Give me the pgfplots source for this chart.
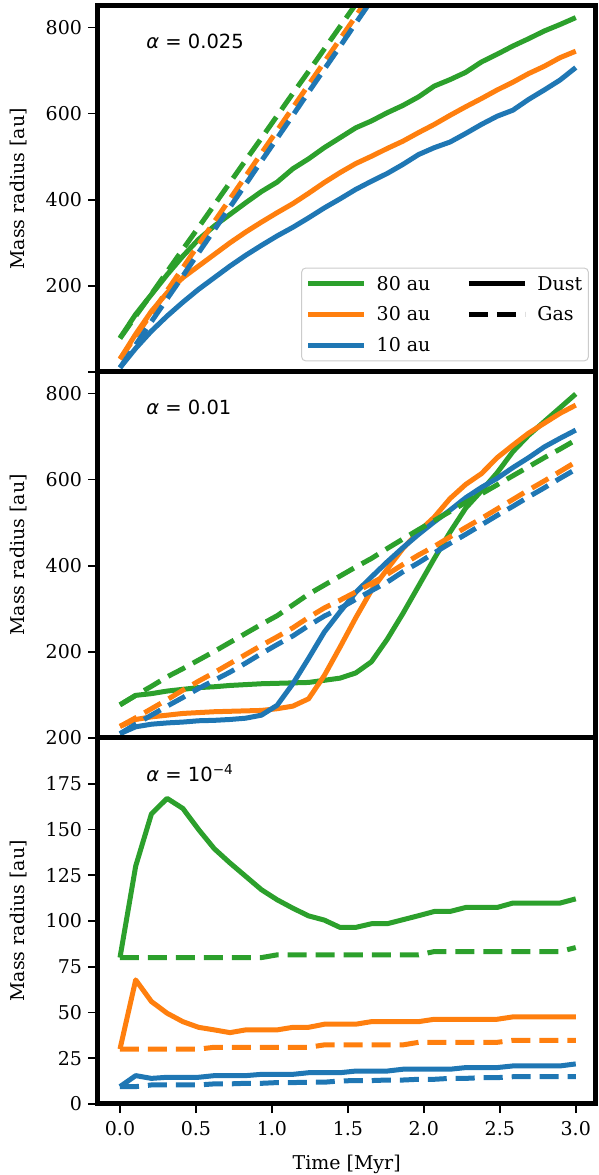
\documentclass[border=0pt]{standalone}
\usepackage{fontspec}
\setmainfont{DejaVu Serif}
\newfontfamily\dvsans{DejaVu Sans}
\usepackage{pgfplots}
\usepackage{pgfplotstable}
\pgfplotsset{compat=1.18}

\definecolor{tabblue}{HTML}{1F77B4}
\definecolor{taborange}{HTML}{FF7F0E}
\definecolor{tabgreen}{HTML}{2CA02C}

\newcommand\fs{\fontsize{19}{22.8}\selectfont}

% mass radius [au]; d = dust, g = gas; 80/30/10 au initial disc size
\pgfplotstableread{
t      d80  d30  d10  g80  g30  g10
0.0000 79   30   10   78   30   10
0.1034 134  88   55   130  83   63
0.2069 180  141  95   181  136  117
0.3103 226  184  130  233  189  170
0.4138 269  219  162  285  242  223
0.5172 308  246  192  336  296  277
0.6207 339  273  219  388  349  330
0.7241 366  300  246  440  402  383
0.8276 393  325  271  492  455  436
0.9310 419  348  294  543  508  490
1.0345 441  370  316  595  561  543
1.1379 472  391  336  647  614  596
1.2414 495  415  358  698  667  650
1.3448 521  440  381  750  720  703
1.4483 544  463  402  802  773  756
1.5517 567  484  424  854  826  810
1.6552 583  501  443  905  880  863
1.7586 602  519  461  nan  nan  nan
1.8621 619  536  482  nan  nan  nan
1.9655 639  556  505  nan  nan  nan
2.0690 664  575  521  nan  nan  nan
2.1724 679  596  534  nan  nan  nan
2.2759 696  616  554  nan  nan  nan
2.3793 720  635  575  nan  nan  nan
2.4828 738  655  594  nan  nan  nan
2.5862 757  673  608  nan  nan  nan
2.6897 774  693  633  nan  nan  nan
2.7931 792  710  655  nan  nan  nan
2.8966 807  730  678  nan  nan  nan
3.0000 823  745  707  nan  nan  nan
}\tabhigh

\pgfplotstableread{
t      d80  d30  d10  g80  g30  g10
0.0000 77   27   10   77   27   10
0.1034 99   43   26   99   47   32
0.2069 103  49   32   120  68   53
0.3103 109  53   35   142  89   74
0.4138 113  57   37   161  111  94
0.5172 117  59   40   181  132  115
0.6207 119  61   41   201  152  134
0.7241 122  62   43   222  173  153
0.8276 124  63   46   243  194  174
0.9310 126  64   53   264  215  196
1.0345 127  68   76   284  235  217
1.1379 128  74   126  309  256  237
1.2414 129  91   185  334  280  261
1.3448 134  145  246  355  302  283
1.4483 139  211  293  376  320  301
1.5517 151  279  338  397  339  322
1.6552 177  343  374  417  359  342
1.7586 229  392  409  440  380  362
1.8621 289  440  442  462  403  386
1.9655 353  479  473  484  425  407
2.0690 417  513  502  505  445  430
2.1724 478  556  529  526  467  452
2.2759 534  589  558  547  489  473
2.3793 574  614  582  567  510  495
2.4828 616  651  603  588  532  517
2.5862 665  680  628  609  554  538
2.6897 703  708  651  630  576  560
2.7931 735  731  676  651  597  581
2.8966 767  754  696  671  619  603
3.0000 799  773  715  692  641  624
}\tabmid

\pgfplotstableread{
t      d80    d30   d10   g80   g30   g10
0.0000 80     30    9.5   80    30    9.5
0.1034 130    67.8  15.5  80    30    9.5
0.2069 158.5  56    14.0  80    30    10.4
0.3103 167    49.6  14.6  80    30    10.4
0.4138 161.5  45    14.6  80    30    10.4
0.5172 150    41.9  14.6  80    30    10.4
0.6207 139.5  40.5  15.5  80    31    11.0
0.7241 131.7  39    15.5  80    31    11.0
0.8276 124.4  40.5  15.5  80    31    11.3
0.9310 117.1  40.5  16.2  80    31    11.3
1.0345 111.6  40.5  16.2  81.5  31    11.7
1.1379 107    41.9  16.2  81.5  31    11.7
1.2414 102.8  41.9  17.1  81.5  31    11.9
1.3448 100.5  43.6  17.1  81.5  32.3  11.9
1.4483 96.5   43.6  17.1  81.5  32.3  12.6
1.5517 96.5   43.6  18.0  81.5  32.3  12.8
1.6552 98.5   45    18.0  81.5  32.3  12.8
1.7586 98.5   45    18.0  81.5  32.3  13.1
1.8621 100.7  45    19.0  81.5  32.3  13.1
1.9655 102.9  45    19.0  81.5  33.7  13.5
2.0690 105.2  46.3  19.0  83.3  33.7  13.5
2.1724 105.2  46.3  19.0  83.3  33.7  14.0
2.2759 107.4  46.3  19.9  83.3  33.7  14.0
2.3793 107.4  46.3  19.9  83.3  33.7  14.4
2.4828 107.4  46.3  19.9  83.3  33.7  14.4
2.5862 109.8  47.6  20.8  83.3  34.8  14.9
2.6897 109.8  47.6  20.8  83.3  34.8  14.9
2.7931 109.8  47.6  20.8  83.3  34.8  14.9
2.8966 109.8  47.6  20.8  83.3  34.8  14.9
3.0000 112.1  47.6  21.9  85.5  34.8  14.9
}\tablow

\tikzset{
  dust/.style={line width=5pt, line join=round},
  gas/.style={line width=5pt, line join=round, dash pattern=on 19pt off 9pt},
  alphalabel/.style={anchor=base west, font=\dvsans\fontsize{19.5}{23}\selectfont},
}

\pgfplotsset{
  panel/.style={
    scale only axis, width=498.3pt, height=366pt,
    anchor=south west,
    xmin=-0.148, xmax=3.132,
    axis on top,
    axis line style={line width=5pt},
    tick style={line width=1.6pt, black},
    major tick length=9pt,
    tick align=outside,
    tick pos=left,
    ticklabel style={font=\fs},
    /pgf/number format/assume math mode=true,
    ylabel={Mass radius [au]},
    ylabel style={at={(axis description cs:-0.1575,0.5)}, anchor=center, font=\fs},
    yticklabel style={xshift=-3pt},
  },
}

\newcommand\plotsix[1]{%
  \addplot[tabgreen, dust, forget plot] table[x=t, y=d80] {#1};
  \addplot[taborange, dust, forget plot] table[x=t, y=d30] {#1};
  \addplot[tabblue, dust, forget plot] table[x=t, y=d10] {#1};
  \addplot[tabgreen, gas, forget plot] table[x=t, y=g80] {#1};
  \addplot[taborange, gas, forget plot] table[x=t, y=g30] {#1};
  \addplot[tabblue, gas, forget plot] table[x=t, y=g10] {#1};
}

\begin{document}
\begin{tikzpicture}
% top: alpha = 0.025
\begin{axis}[panel, at={(97.5pt,803pt)},
  ymin=0, ymax=850, ytick={0,200,400,600,800}, yticklabels={,200,400,600,800},
  xtick=\empty,
  legend columns=2,
  legend cell align=left,
  legend image code/.code={\draw[#1] (0pt,0pt) -- (56pt,0pt);},
  legend style={at={(0.986,0.029)}, anchor=south east, font=\fs,
    draw=black!20, line width=1pt, rounded corners=4pt, fill=white,
    inner xsep=4pt, inner ysep=6pt, row sep=11pt,
    nodes={inner sep=2pt},
    /tikz/column 1/.style={column sep=8pt},
    /tikz/column 2/.style={column sep=34pt},
    /tikz/column 3/.style={column sep=8pt}},
]
\addlegendimage{tabgreen, dust}
\addlegendentry{80 au}
\addlegendimage{black, dust}
\addlegendentry{Dust}
\addlegendimage{taborange, dust}
\addlegendentry{30 au}
\addlegendimage{black, gas}
\addlegendentry{Gas}
\addlegendimage{tabblue, dust}
\addlegendentry{10 au}
\plotsix{\tabhigh}
\node[alphalabel] at (axis description cs:0.091,0.885) {{\itshape α} = 0.025};
\end{axis}

% middle: alpha = 0.01
\begin{axis}[panel, at={(97.5pt,437pt)},
  ymin=0, ymax=850, ytick={0,200,400,600,800}, yticklabels={,200,400,600,800},
  xtick=\empty,
]
\plotsix{\tabmid}
\node[alphalabel] at (axis description cs:0.091,0.885) {{\itshape α} = 0.01};
\end{axis}

% bottom: alpha = 1e-4
\begin{axis}[panel, at={(97.5pt,71pt)},
  ymin=0, ymax=200, ytick={0,25,...,200},
  xtick={0,0.5,1,1.5,2,2.5,3},
  xticklabels={0.0,0.5,1.0,1.5,2.0,2.5,3.0},
  xticklabel style={yshift=-5pt},
  xlabel={Time [Myr]},
  xlabel style={at={(axis description cs:0.5,0)}, anchor=base, yshift=-65pt, font=\fs},
]
\plotsix{\tablow}
\node[alphalabel] at (axis description cs:0.091,0.88) {{\itshape α} = 10\textsuperscript{−4}};
\end{axis}

\pgfresetboundingbox
\useasboundingbox (0pt,0pt) rectangle (598pt,1175pt);
\end{tikzpicture}
\end{document}
